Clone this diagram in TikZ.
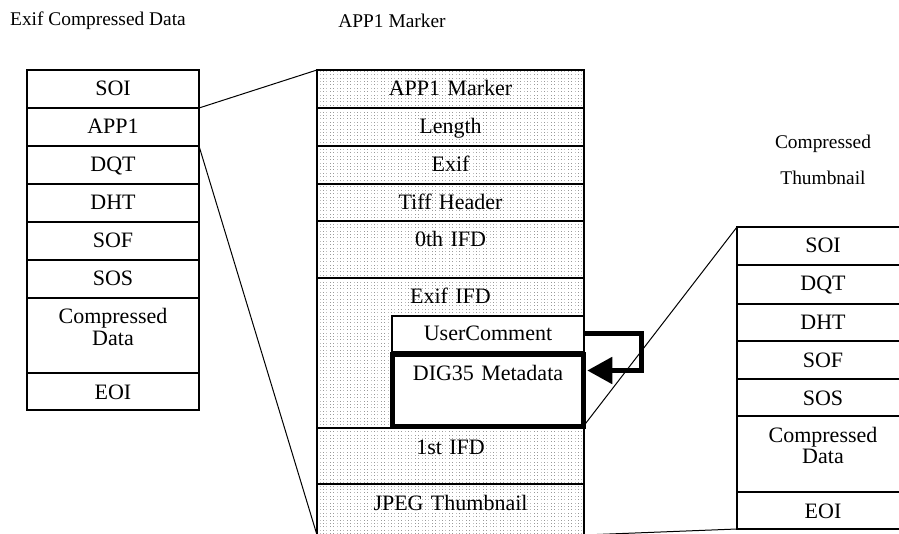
\documentclass[tikz,border=0pt]{standalone}
\usepackage{fontspec}
\setmainfont{Liberation Serif}
\usetikzlibrary{positioning, calc, patterns, arrows.meta}
\newcommand{\cellfont}{\fontsize{22}{21}\selectfont}
\newcommand{\headfont}{\fontsize{19.4}{36}\selectfont}
\pgfdeclarepatternformonly{finedots}{\pgfpointorigin}{\pgfpoint{1pt}{1pt}}{\pgfpoint{3.4pt}{3.4pt}}{%
    \pgfpathrectangle{\pgfpointorigin}{\pgfpoint{0.8pt}{0.8pt}}\pgfusepath{fill}}
\tikzstyle{cell} = [draw, rectangle, line width=1.2pt, inner sep=0pt, outer sep=0pt, align=center, font=\cellfont, text height=26pt, text depth=12pt, anchor=north]
\tikzstyle{side} = [cell, text width=172pt]
\tikzstyle{app} = [cell, text width=267pt, pattern=finedots, pattern color=black!40]
\tikzstyle{inner} = [cell, text width=192pt, fill=white, anchor=north east]
\tikzstyle{head} = [font=\headfont, align=center]
\tikzstyle{edge} = [line width=1pt]
\tikzstyle{wire} = [line width=5pt, line join=miter, -{Triangle[length=25pt,width=26pt]}]

\begin{document}
\begin{tikzpicture}[x=1pt, y=-1pt]
    \useasboundingbox (0,0) rectangle (899,534);
    \clip (0,0) rectangle (899,534);

    % headings
    \node[head] (hexif) at (98,21) {Exif Compressed Data};
    \node[head] (happ) at (392,21) {APP1 Marker};
    \node[head] (hthumb) at (823,160) {Compressed\\Thumbnail};

    % Exif compressed data
    \node[side] (lsoi) at (113,70) {SOI};
    \node[side, below=0pt of lsoi] (lapp) {APP1};
    \node[side, below=0pt of lapp] (ldqt) {DQT};
    \node[side, below=0pt of ldqt] (ldht) {DHT};
    \node[side, below=0pt of ldht] (lsof) {SOF};
    \node[side, below=0pt of lsof] (lsos) {SOS};
    \node[side, below=0pt of lsos, text depth=49pt] (ldata) {Compressed\\Data};
    \node[side, below=0pt of ldata, text depth=11pt] (leoi) {EOI};

    % APP1 marker
    \node[app] (mmark) at (450.5,70) {APP1 Marker};
    \node[app, below=0pt of mmark] (mlen) {Length};
    \node[app, below=0pt of mlen] (mexif) {Exif};
    \node[app, below=0pt of mexif, text depth=11pt] (mtiff) {Tiff Header};
    \node[app, below=0pt of mtiff, text depth=31pt] (mifd0) {0th IFD};
    \node[app, below=0pt of mifd0, text depth=124pt] (mexififd) {Exif IFD};
    \node[app, below=0pt of mexififd, text depth=30pt] (mifd1) {1st IFD};
    \node[app, below=0pt of mifd1, text depth=25pt] (mjpeg) {JPEG Thumbnail};
    \node[inner, text height=25pt, text depth=11pt] (mcomment) at ($(mexififd.north east)+(0,38)$) {UserComment};
    \node[inner, below=2.5pt of mcomment, line width=5pt, text width=190.5pt, text depth=46pt] (mdig) {DIG35 Metadata};

    % compressed thumbnail
    \node[side] (tsoi) at (823,227) {SOI};
    \node[side, below=0pt of tsoi, text depth=13pt] (tdqt) {DQT};
    \node[side, below=0pt of tdqt, text depth=11pt] (tdht) {DHT};
    \node[side, below=0pt of tdht] (tsof) {SOF};
    \node[side, below=0pt of tsof, text depth=11pt] (tsos) {SOS};
    \node[side, below=0pt of tsos, text depth=50pt] (tdata) {Compressed\\Data};
    \node[side, below=0pt of tdata, text depth=11pt] (teoi) {EOI};

    \draw[edge] (lsoi.south east) -- (mmark.north west);
    \draw[edge] (lapp.south east) -- (mjpeg.south west);
    \draw[edge] (mdig.south east) -- (tsoi.north west);
    \draw[edge] (mjpeg.south east) -- (teoi.south west);
    \draw[wire] (mcomment.east) -- ++(57,0) |- ($(mdig.north east)+(4,16)$);
\end{tikzpicture}
\end{document}
